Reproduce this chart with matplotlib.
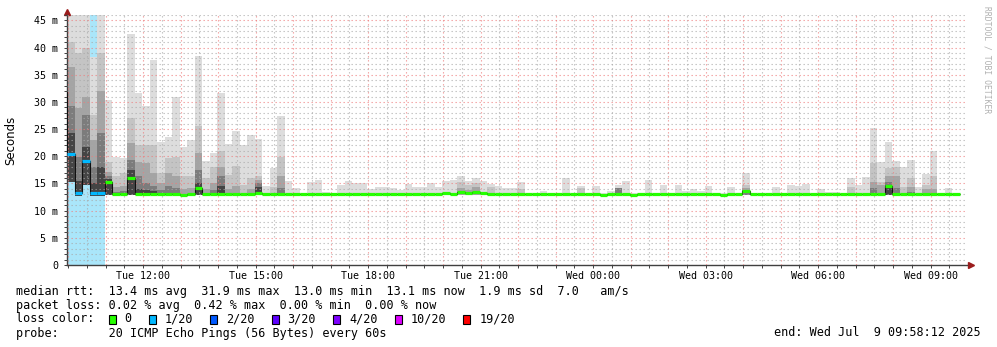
import datetime as dt

import matplotlib
matplotlib.use("Agg")
import matplotlib.pyplot as plt
import matplotlib.transforms as mtransforms
import numpy as np
from matplotlib.patches import Rectangle

N = None

W, H = 997, 347

start_time = dt.datetime(2025, 7, 8, 9, 58, 12)
bin_hours = 0.2   # 12 minute steps
span_hours = 24
y_top = 46

tick_labels = ["Tue 12:00", "Tue 15:00", "Tue 18:00", "Tue 21:00",
               "Wed 00:00", "Wed 03:00", "Wed 06:00", "Wed 09:00"]

# smoke, one value per 12 min bin (ms) - outermost (lightest) to innermost
smoke_top = [50, 50, 50, 38.2, 50, 30.3, 19.9, 19.6, 42.5, 31.7,
             29.2, 37.8, 22.7, 23.6, 30.9, 21.8, 23.0, 38.4, 19.2, 20.7,
             31.7, 22.3, 24.7, 22.1, 23.9, 23.2, 14.5, 17.8, 27.4, 15.5,
             14.2, 13.3, 15.2, 15.6, 13.5, 13.3, 14.7, 15.5, 15.0, 15.0,
             14.0, 14.4, 14.3, 14.1, 13.8, 14.9, 14.3, 14.3, 15.0, 14.3,
             15.5, 15.7, 16.3, 15.5, 16.1, 15.5, 14.9, 14.6, 14.1, 14.1,
             15.3, 13.3, 13.2, 13.7, 13.2, 13.2, 16.1, 13.2, 14.6, 13.2,
             14.6, 13.2, 13.7, 14.8, 15.5, 13.2, 13.2, 15.7, 13.2, 14.8,
             13.2, 14.8, 13.7, 13.9, 13.7, 14.6, 13.2, 13.2, 14.3, 13.2,
             16.9, 13.2, 13.2, 13.2, 14.3, 13.2, 14.8, 14.6, 14.9, 13.2,
             13.9, 13.5, 13.4, 13.2, 16.1, 14.8, 16.2, 25.2, 19.0, 22.7,
             19.2, 18.0, 19.3, 14.4, 16.8, 20.9, 13.2, 14.1, 13.2, N]

smoke_q1 = [41.0, 39.0, 39.9, 27.6, 39.0, 19.0, 16.3, 16.9, 27.0, 22.0,
            22.1, 22.1, 17.0, 19.6, 19.9, 16.3, 16.3, 25.5, 16.0, 18.1,
            20.9, 16.6, 18.2, 14.8, 16.0, 16.3, N, 14.3, 19.9, N,
            N, N, N, N, N, N, N, N, N, N,
            N, N, N, N, N, N, N, N, N, N,
            N, N, 15.3, 14.8, 15.0, N, 14.3, N, N, N,
            14.0, N, N, N, N, N, N, N, 14.1, N,
            N, N, N, 14.1, N, N, N, N, N, N,
            N, N, N, N, N, N, N, N, N, N,
            14.8, N, N, N, N, N, N, N, N, N,
            N, N, N, N, 14.3, N, N, 18.7, 15.3, 17.8,
            18.1, 14.3, 16.0, N, 14.8, 16.4, N, N, N, N]

smoke_q2 = [36.5, 28.9, 31.0, 23.0, 32.1, 17.2, 14.3, 14.5, 22.4, 19.0,
            18.7, 16.9, 15.0, 16.9, 16.3, 14.0, 14.2, 20.7, 14.0, 15.0,
            18.1, 14.0, 14.5, N, 14.0, 15.6, N, N, 16.3, N,
            N, N, N, N, N, N, N, N, N, N,
            N, N, N, N, N, N, N, N, N, N,
            N, N, 14.1, 13.8, 14.3, N, N, N, N, N,
            N, N, N, N, N, N, N, N, N, N,
            N, N, N, 14.1, N, N, N, N, N, N,
            N, N, N, N, N, N, N, N, N, N,
            14.1, N, N, N, N, N, N, N, N, N,
            N, N, N, N, N, N, N, 15.3, 14.8, 16.3,
            16.3, N, 14.3, N, 13.9, 13.9, N, N, N, N]

smoke_q3 = [29.2, 19.9, 27.6, 18.1, 24.3, 16.3, 13.5, 13.6, 19.3, 16.3,
            15.0, 14.5, 13.8, 14.5, 14.2, N, N, 17.5, N, 13.8,
            16.3, N, N, N, N, 15.0, N, N, 14.2, N,
            N, N, N, N, N, N, N, N, N, N,
            N, N, N, N, N, N, N, N, N, N,
            N, N, N, N, N, N, N, N, N, N,
            N, N, N, N, N, N, N, N, N, N,
            N, N, N, 14.1, N, N, N, N, N, N,
            N, N, N, N, N, N, N, N, N, N,
            13.8, N, N, N, N, N, N, N, N, N,
            N, N, N, N, N, N, N, 14.1, N, 15.3,
            14.1, N, 13.5, N, N, N, N, N, N, N]

smoke_q4 = [24.2, 15.5, 21.8, 15.0, 18.1, 15.8, N, N, 17.5, 14.0,
            13.8, 13.6, N, N, N, N, N, 15.0, N, N,
            14.5, N, N, N, N, 14.3, N, N, N, N] + [N] * 79 + [14.8] + [N] * 10

rtt_min = [15.2, 12.7, 14.7, 12.7, 12.7] + [12.9] * 114 + [N]

rtt_med = [20.4, 13.2, 19.1, 13.2, 13.2, 15.2, 13.0, 13.0, 16.1, 13.0,
           13.0, 13.0, 13.0, 13.0, 13.0, 12.9, 13.0, 14.2, 13.0, 13.0,
           13.0, 13.0, 13.0, 13.0, 13.0, 13.2, 13.0, 13.0, 13.0, 13.0,
           13.0, 13.0, 13.0, 13.0, 13.0, 13.0, 13.0, 13.0, 13.0, 13.0,
           13.0, 13.0, 13.0, 13.0, 13.0, 13.0, 13.0, 13.0, 13.0, 13.0,
           13.2, 13.1, 13.4, 13.2, 13.4, 13.2, 13.0, 13.0, 13.0, 13.0,
           13.0, 13.0, 13.0, 13.0, 13.0, 13.0, 13.0, 13.0, 13.0, 13.0,
           13.0, 12.9, 13.0, 13.0, 13.0, 12.9, 13.0, 13.0, 13.0, 13.0,
           13.0, 13.0, 13.0, 13.0, 13.0, 13.0, 13.0, 12.9, 13.0, 13.0,
           13.6, 13.0, 13.0, 13.0, 13.0, 13.0, 13.0, 13.0, 13.0, 13.0,
           13.0, 13.0, 13.0, 13.0, 13.0, 13.0, 13.0, 13.0, 13.0, 14.5,
           13.0, 13.0, 13.0, 13.0, 13.0, 13.0, 13.0, 13.0, 13.0, N]
prev_median = 31.9

# lost pings out of 20, per bin
loss = [1] * 5 + [0] * 114 + [N]

loss_levels = [0, 1, 2, 3, 4, 10, 19]
loss_labels = ["0", "1/20", "2/20", "3/20", "4/20", "10/20", "19/20"]
loss_colors = ["#26ff00", "#00b8ff", "#0059ff", "#5e00ff", "#7e00ff", "#dd00ff", "#ff0000"]
loss_bg = "#aae6fa"

stat_names = ["avg", "max", "min", "now"]
rtt_stats = [13.4, 31.9, 13.0, 13.1]
rtt_sd = 1.9
rtt_am = 7.0
loss_stats = [0.02, 0.42, 0.00, 0.00]
probe_text = "20 ICMP Echo Pings (56 Bytes) every 60s"
end_text = "end: Wed Jul  9 09:58:12 2025"

MONO = "DejaVu Sans Mono"
plt.rcParams["font.family"] = MONO


def to_array(values):
    return np.array([np.nan if v is None else v for v in values], dtype=float)


def hours_since_start(t):
    return (t - start_time).total_seconds() / 3600


def loss_color(n):
    color = loss_colors[0]
    for level, c in zip(loss_levels, loss_colors):
        if n >= level:
            color = c
    return color


def fig_xy(x, y):
    return x / W, 1 - y / H


def draw_chart(ax):
    n = len(rtt_med)
    edges = np.arange(n + 1) * bin_hours
    lows = to_array(rtt_min)

    lost = to_array(loss)
    bg = np.where(lost > 0, y_top, np.nan)
    ax.stairs(bg, edges, baseline=0, fill=True, color=loss_bg, lw=0, zorder=0.5)

    shades = [(smoke_top, "#dddddd"), (smoke_q1, "#c4c4c4"), (smoke_q2, "#a4a4a4"),
              (smoke_q3, "#7c7c7c"), (smoke_q4, "#444444")]
    for values, color in shades:
        ax.stairs(to_array(values), edges, baseline=lows, fill=True,
                  color=color, lw=0, zorder=1)

    med = to_array(rtt_med)
    med_edges = np.arange(-1, n + 1) * bin_hours
    ax.stairs(np.r_[prev_median, med], med_edges, baseline=None,
              color="#101010", lw=0.8, zorder=3)

    ok = ~np.isnan(med)
    colors = [loss_color(v) for v in lost[ok]]
    ax.hlines(med[ok], edges[:-1][ok], edges[1:][ok], colors=colors, lw=2.3, zorder=4)


def style_axes(ax):
    ax.set_xlim(0, span_hours)
    ax.set_ylim(0, y_top)

    first_hour = start_time.replace(minute=0, second=0)
    hours = [first_hour + dt.timedelta(hours=h) for h in range(1, span_hours + 1)]
    halves = [h + dt.timedelta(minutes=30) for h in hours]
    labels = [h.strftime("%a %H:%M") for h in hours]
    labels = [lab if lab in tick_labels else "" for lab in labels]
    ax.set_xticks([hours_since_start(h) for h in hours])
    ax.set_xticklabels(labels)
    ax.set_xticks([hours_since_start(h) for h in halves if hours_since_start(h) < span_hours],
                  minor=True)

    ax.set_yticks(range(0, 46, 5))
    ax.set_yticklabels(["0"] + [f"{v} m" for v in range(5, 46, 5)])
    ax.set_yticks(range(0, y_top + 1), minor=True)

    dots = (0, (1.2, 2.4))
    ax.set_axisbelow(False)
    ax.grid(which="major", color="#ee7b7b", alpha=0.75, linestyle=dots, linewidth=0.8)
    ax.grid(which="minor", color="#a8a8a8", alpha=0.75, linestyle=dots, linewidth=0.8)

    ax.tick_params(which="both", direction="out", length=2, width=0.7, color="#404040",
                   labelsize=7.2, pad=2.5)
    ax.tick_params(axis="y", which="major", pad=4.5)

    for side in ["top", "right"]:
        ax.spines[side].set_visible(False)
    for side in ["left", "bottom"]:
        ax.spines[side].set_color("#404040")
        ax.spines[side].set_linewidth(1.0)

    fig = ax.figure
    up = mtransforms.offset_copy(ax.transAxes, fig=fig, x=0, y=3, units="dots")
    right = mtransforms.offset_copy(ax.transAxes, fig=fig, x=4, y=0, units="dots")
    ax.plot([0], [1], marker="^", ms=4.5, color="#9b1c1c", transform=up, clip_on=False)
    ax.plot([1], [0], marker=">", ms=4.5, color="#9b1c1c", transform=right, clip_on=False)


def draw_legend(fig):
    cw = 7.12
    x0 = 16
    size = 8.5

    rtt_line = "median rtt:  " + "  ".join(f"{v:.1f} ms {s}" for v, s in zip(rtt_stats, stat_names))
    rtt_line += f"  {rtt_sd:.1f} ms sd  {rtt_am:.1f}   am/s"
    loss_line = "packet loss: " + "  ".join(f"{v:.2f} % {s}" for v, s in zip(loss_stats, stat_names))
    probe_line = "probe:       " + probe_text

    fig.text(*fig_xy(x0, 291), rtt_line, fontsize=size, va="center")
    fig.text(*fig_xy(x0, 305), loss_line, fontsize=size, va="center")
    fig.text(*fig_xy(x0, 319), "loss color:", fontsize=size, va="center")
    fig.text(*fig_xy(x0, 333), probe_line, fontsize=size, va="center")
    fig.text(*fig_xy(981, 333), end_text, fontsize=size, va="center", ha="right")

    bx = x0 + 13 * cw
    for label, color in zip(loss_labels, loss_colors):
        bl = fig_xy(bx, 319 + 4.5)
        fig.add_artist(Rectangle(bl, 7 / W, 9 / H, transform=fig.transFigure,
                                 facecolor=color, edgecolor="black", lw=0.8))
        tx = bx + 16
        fig.text(*fig_xy(tx, 319), label, fontsize=size, va="center")
        bx = tx + len(label) * cw + 17

    fig.text(*fig_xy(11, 140), "Seconds", fontsize=8.5, family="DejaVu Sans",
             rotation=90, ha="center", va="center")
    fig.text(*fig_xy(987, 60), "RRDTOOL / TOBI OETIKER", fontsize=5.8, color="#b0b0b0",
             rotation=270, ha="center", va="center")


fig = plt.figure(figsize=(W / 100, H / 100), dpi=100)
ax = fig.add_axes([67 / W, (H - 265) / H, 900 / W, 250 / H])

draw_chart(ax)
style_axes(ax)
draw_legend(fig)

plt.savefig("out.png", dpi=100)
